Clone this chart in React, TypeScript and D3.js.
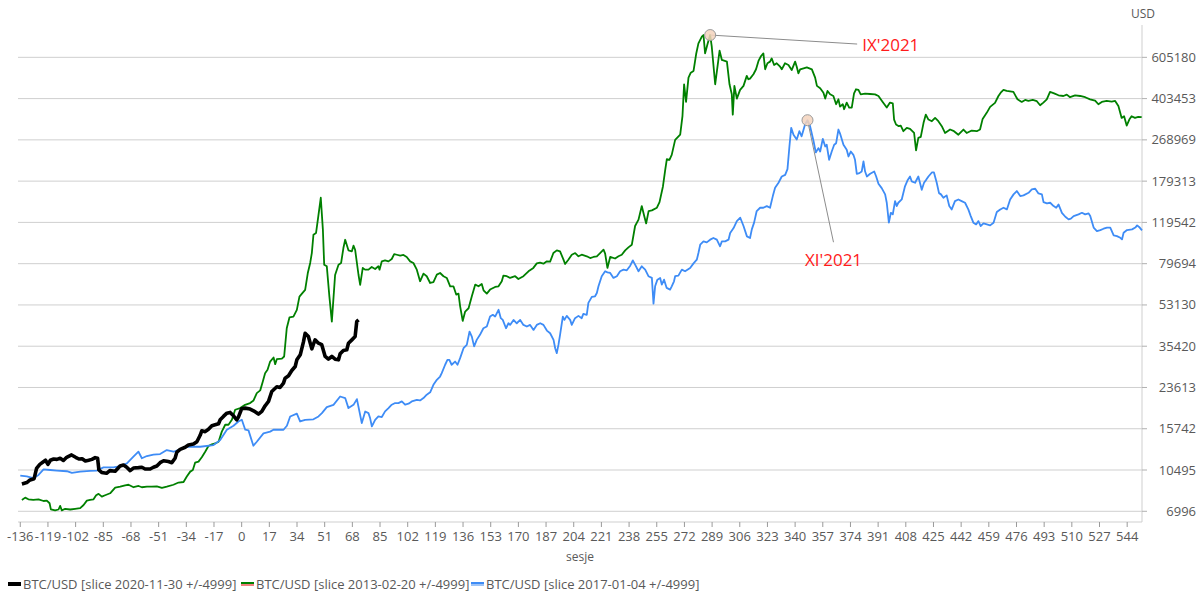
import React from 'react';
import * as d3 from 'd3';

// sessions relative to slice date, USD values
const xTickLabels = [-136, -119, -102, -85, -68, -51, -34, -17, 0, 17, 34, 51, 68, 85, 102, 119, 136, 153, 170, 187, 204, 221, 238, 255, 272, 289, 306, 323, 340, 357, 374, 391, 408, 425, 442, 459, 476, 493, 510, 527, 544];
const yTickLabels = [6996, 10495, 15742, 23613, 35420, 53130, 79694, 119542, 179313, 268969, 403453, 605180];

const black2020: [number, number][] = [
  [-135, 9150], [-132, 9280], [-130, 9520], [-127.5, 9640], [-126, 10670], [-124, 11090], [-122, 11350], [-120.5, 11550],
  [-119, 11090], [-117.5, 11550], [-115.5, 11690], [-113.5, 11650], [-111.5, 11780], [-109.5, 11530], [-107.5, 11890],
  [-104.5, 12170], [-102, 11890], [-100, 11690], [-98, 11730], [-96, 11460], [-94, 11550], [-92, 11650], [-90, 11850],
  [-88.5, 11780], [-87.7, 10495], [-86, 10250], [-83, 10160], [-81, 10430], [-77.7, 10370], [-74.7, 10910], [-72.6, 11020],
  [-70.6, 10780], [-68.5, 10430], [-66.5, 10700], [-63.4, 10740], [-61.3, 10780], [-59.3, 10600], [-56.2, 10600],
  [-54.2, 10780], [-52.1, 10910], [-50.1, 11280], [-48, 11500], [-45, 11400], [-42.9, 11280], [-40.9, 11780], [-39.8, 12520],
  [-37.8, 12860], [-34.7, 13120], [-32.7, 13420], [-29.6, 13540], [-27.5, 13860], [-25.5, 14760], [-24.5, 15430],
  [-22.4, 15300], [-20.4, 15650], [-18.3, 16210], [-16.3, 16370], [-14.2, 16530], [-13.2, 17190], [-11.2, 17770],
  [-9.1, 18350], [-7.1, 18480], [-5, 17880], [-3, 17190], [-2, 17660], [0, 19160], [2.1, 19280], [5.2, 19100], [7.3, 18780],
  [10.3, 18180], [12.4, 18670], [14.4, 19730], [16.5, 20590], [18.5, 22710], [21.6, 23780], [23.6, 23610], [25.7, 24650],
  [26.7, 25880], [28.8, 26490], [30.8, 27900], [32.9, 29020], [33.9, 30980], [36, 32540], [38, 37050], [39, 40240],
  [41, 38930], [43.1, 34500], [44.1, 36130], [45.1, 37690], [47.2, 36480], [49.2, 35950], [51.3, 32020], [53.3, 31170],
  [55.4, 32020], [57.4, 31170], [59.5, 30980], [60.5, 32870], [62.5, 33980], [64.6, 34200], [65.6, 36480], [67.7, 37690],
  [69.7, 38930], [70.7, 45130], [71.8, 45870],
];

const green2013: [number, number][] = [
  [-135, 7820], [-133, 8000], [-131, 7870], [-128, 7820], [-124.8, 7870], [-121.7, 7740], [-119.7, 7770], [-118, 7570],
  [-117.2, 7130], [-114.6, 7060], [-112.5, 7120], [-111.5, 7380], [-110.5, 7060], [-108.4, 7170], [-105.3, 7120],
  [-102.3, 7170], [-99.2, 7220], [-97.1, 7440], [-95.1, 7770], [-93.1, 7820], [-91, 7870], [-89.4, 8190], [-87.9, 8300],
  [-85.9, 8080], [-83.9, 8190], [-80.8, 8350], [-77.7, 8830], [-74.6, 8910], [-71.6, 9030], [-69.5, 9080], [-66.4, 8860],
  [-63.3, 8970], [-61.3, 8860], [-58.2, 8910], [-55.2, 8910], [-52.1, 8940], [-49, 8800], [-46, 8910], [-41.9, 9080],
  [-38.8, 9280], [-35.7, 9330], [-33.7, 9840], [-31.6, 10330], [-30, 10495], [-28.6, 11280], [-26.5, 11400], [-24.5, 11890],
  [-22.4, 12560], [-20.4, 13280], [-18.3, 13500], [-16.3, 13620], [-14.2, 13860], [-12.2, 15300], [-10.1, 16370],
  [-8.1, 16370], [-6, 17190], [-4, 18970], [-0.9, 19280], [2.1, 19910], [5.2, 20260], [7.3, 20780], [9.3, 22340],
  [11.4, 22950], [13, 25030], [14.4, 27180], [15.9, 28100], [17.5, 30460], [19.6, 31690], [20.6, 29680], [21.6, 31170],
  [24.7, 31360], [26.1, 32020], [27.7, 42260], [29.4, 47070], [31.8, 47390], [33.9, 50650], [35.5, 57650], [36.9, 59190],
  [39, 61580], [40.6, 72520], [42.1, 80250], [43.1, 88460], [44.1, 105900], [45.7, 107750], [47.1, 127200], [48.6, 152300],
  [49.9, 111300], [50.7, 78900], [52.3, 77670], [53.9, 57650], [55.4, 45120], [57.4, 71300], [59.5, 78900], [61.1, 80250],
  [62.5, 92920], [63.6, 100800], [65.6, 90850], [67.7, 89980], [68.7, 95080], [69.7, 91410], [71.8, 71300], [72.8, 64660],
  [74.4, 76410], [75.8, 75150], [77.9, 75150], [79.9, 77150], [82, 75630], [84, 77670], [84.7, 75150],
  [86.1, 81530], [88.1, 82330], [90.2, 81530], [92.2, 83440], [93.7, 87580], [95.3, 87000], [97.4, 86230], [99.4, 86800],
  [101.4, 85110], [103.5, 81530], [105.5, 80230], [107.6, 75150], [109.6, 67050], [111.7, 72260], [113.7, 70450],
  [115.8, 65930], [117.8, 66410], [119.9, 71570], [121.9, 72730], [124, 70450], [126, 69280], [128.1, 63810], [130.1, 63810],
  [131.8, 58820], [133.2, 59400], [134.2, 52560], [135.8, 45410], [137.3, 49800], [139.4, 51430], [141.4, 57860],
  [143.5, 64870], [145.5, 63810], [147.5, 65300], [148.6, 61370], [150.6, 59400], [152.6, 61790], [155.7, 63380],
  [157.8, 63810], [159.8, 67050], [160.8, 70870], [162.9, 70450], [164.9, 69280], [168, 70450], [170, 68540], [173.1, 70450],
  [176.2, 73960], [179.2, 76450], [181.3, 79950], [183.3, 80460], [185.4, 79694], [187.5, 81530], [189.5, 81270],
  [191.5, 88460], [193.6, 90850], [195.6, 89980], [197.7, 82880], [198.7, 79430], [200.7, 82880], [202.8, 87030],
  [204.9, 88460], [206.9, 85670], [208.9, 87030], [212, 85670], [214.1, 84240], [216.1, 85110], [218.2, 85670],
  [220.2, 88460], [222.3, 91410], [223.3, 87900], [224.7, 76410], [226.4, 85110], [229.4, 83840], [231.5, 85670],
  [233.5, 87030], [235.6, 90850], [237.6, 93560], [239.7, 96030], [241.7, 115390], [243.8, 122870], [245.8, 140340],
  [247.3, 127200], [248.5, 118370], [250, 133650], [252, 134490], [255.1, 138070], [256.7, 145960], [258.8, 170130],
  [260.2, 200470], [261.2, 222530], [262.8, 221090], [264.2, 232210], [266.3, 268970], [269.4, 282960], [270.8, 339440],
  [271.8, 464370], [273, 390570], [274.5, 495840], [275.9, 520460], [277.6, 529330], [279.2, 625150], [280.6, 694140],
  [282.7, 741340], [283.7, 753450], [284.7, 629390], [286.2, 689900], [287.8, 753450], [288.8, 671750], [290.9, 464370],
  [293.6, 646330], [295, 589840], [298.1, 580230], [299.7, 464370], [301.1, 420800], [301.7, 344820], [302.7, 457120],
  [304.2, 403450], [306.2, 439360], [308.3, 457120], [309.3, 480110], [310.3, 504320], [311.3, 487770],
  [312.3, 491000], [314.4, 512390], [316, 538210], [317.5, 584200], [319.1, 613050], [320.5, 629390], [321.6, 538210],
  [323, 570920], [324.6, 580230], [325.6, 598710], [327.1, 561390], [328.7, 570920], [330.8, 552170], [331.8, 537940],
  [333.8, 570920], [335.9, 561390], [337.9, 534140], [340, 580230], [341, 552170], [342, 517250], [343.1, 537940],
  [345.2, 543250], [347.2, 548670], [350.3, 537940], [352.3, 495840], [353.4, 457120], [355.4, 446620], [357.4, 427660],
  [358.5, 403450], [359.9, 434920], [361.5, 420800], [363.5, 413940], [365.2, 381700], [366.6, 400700], [367.6, 372880],
  [369.3, 381700], [370.1, 363470], [371.7, 387940], [373.2, 369460], [374.8, 369460], [376.2, 424430], [377.4, 442190],
  [378.9, 439360], [380.3, 420800], [383, 423630], [386, 422170], [389.1, 420800], [391.2, 413940], [393.8, 390570],
  [396.3, 369460], [398.3, 387940], [400, 385340], [400.8, 328410], [402, 312810], [403.7, 307700], [404.9, 309590],
  [406.5, 292910], [408.6, 302590], [410.6, 299630], [413.1, 287800], [414.3, 242430], [415.7, 274350], [417.2, 277040],
  [418.9, 317920], [420.3, 344820], [421.9, 328410], [424, 323030], [426, 333790], [428, 323030], [430.1, 307700],
  [432.1, 287800], [435.2, 297750], [437.6, 292910], [440.3, 282960], [443.4, 297750], [445.4, 287800], [448.5, 294790],
  [451.6, 292910], [453.6, 297750], [455.2, 330560], [457.7, 350740], [459.8, 371990], [462.8, 387050], [464.9, 413940],
  [466.3, 427660], [468, 439360], [470, 434920], [474.1, 430890], [476.6, 400700], [479.2, 390570], [481.3, 398280],
  [483.3, 394300], [486, 398280], [488.5, 393240], [490.5, 377770], [492.5, 387940], [494.6, 400700], [496.6, 430890],
  [499.1, 425000], [501.8, 416770], [504.8, 413940], [506.9, 419590], [508.9, 409000], [512, 416770], [515.1, 413940],
  [518.2, 409000], [521.2, 400700], [524.3, 395380], [526.3, 381700], [528.4, 390570], [531.4, 394300], [534.5, 391870],
  [536.6, 394300], [538.6, 375310], [540.6, 333790], [542.1, 339440], [543.7, 309590], [545.3, 328410], [546.7, 339440],
  [548.8, 333790], [550.8, 337300], [552.9, 336000],
];

const blue2017: [number, number][] = [
  [-136, 9930], [-132, 9860], [-128, 9680], [-124.8, 10000], [-121.7, 10550], [-117.6, 10495], [-113.5, 10440],
  [-107.4, 10370], [-104.3, 10200], [-99.2, 10330], [-93, 10400], [-89, 10440], [-84.9, 10770], [-78.7, 10770],
  [-74.6, 10900], [-70.5, 11210], [-66.5, 11960], [-63.4, 12560], [-61.3, 11780], [-58.2, 12040], [-54.2, 12210],
  [-50.1, 12280], [-46, 12770], [-41.9, 12560], [-37.8, 12860], [-33.7, 13190], [-25.5, 13190], [-17.3, 13410],
  [-13.2, 14080], [-9.1, 15590], [-5, 16210], [-2, 16910], [0.1, 17190], [2.2, 15590], [4.2, 15490], [7.2, 13320],
  [9.3, 13850], [13.4, 15050], [17.5, 15300], [19.5, 15590], [25.7, 15590], [27.8, 16210], [29.8, 17760], [33.9, 18250],
  [35.9, 16910], [39, 17190], [44.1, 17270], [47.2, 17760], [49.3, 18350], [52.3, 19470], [56.4, 19910], [60.5, 21610],
  [63.6, 21280], [65.6, 19280], [68.7, 19910], [70.8, 21060], [73.8, 16650], [75.9, 18650], [77.9, 18350],
  [78.9, 17480], [80, 16100], [82, 17190], [84, 17770], [86.1, 17660], [88.1, 18670], [90.2, 19280], [92.2, 19930],
  [94.3, 20260], [96.3, 20260], [98.4, 20590], [100.4, 19930], [102.5, 20130], [104.5, 20590], [107.6, 20920],
  [109.6, 20800], [111.7, 21280], [113.7, 21990], [115.8, 22510], [117.8, 24230], [119.9, 25450], [121.9, 26300],
  [122.9, 27180], [125, 29520], [126.4, 30980], [127.6, 30980], [129, 29520], [131.1, 30460], [132.6, 29520],
  [134.2, 31500], [136.3, 34730], [138.3, 35880], [140, 40910], [141.4, 38930], [142.8, 35370], [144.4, 37690],
  [146.4, 39600], [148.5, 42260], [150.6, 42960], [152.6, 47390], [154.3, 48210], [155.7, 47390], [157.8, 50650],
  [159.2, 46650], [160.4, 45870], [162.4, 42260], [163.9, 44380], [164.9, 43670], [167, 45870], [169, 44380],
  [171.1, 45870], [173.1, 43670], [175.2, 42960], [177.2, 43670], [179.3, 41580], [181.3, 43670], [183.4, 44380],
  [185.4, 43670], [187.5, 41300], [189.5, 40240], [191.6, 37690], [192.6, 34730], [193.6, 33070], [194.6, 35880],
  [195.6, 39600], [197.3, 47390], [198.3, 45870], [199.7, 47720], [201.8, 45870], [202.8, 43670], [204.8, 46650],
  [206.9, 47720], [208.9, 46650], [209.9, 48670], [212, 48210], [213, 54190], [215.1, 57490], [217.1, 57860],
  [218.2, 59770], [219.2, 63810], [221.2, 70450], [223.3, 73960], [224.7, 73210], [226.4, 72730], [228.4, 69280],
  [230.5, 70450], [232.5, 73960], [234.6, 75180], [236.6, 74680], [238.7, 78150], [240.3, 82330], [241.7, 78960],
  [243.8, 73960], [245.8, 77680], [247.9, 75180], [249.9, 70450], [252, 69280], [253, 53820], [254, 63810],
  [255.4, 68110], [257.1, 69280], [258.1, 64870], [259.5, 68110], [261.1, 62800], [263.2, 61790], [264.2, 63810],
  [265.6, 67050], [266.3, 70450], [268.3, 70870], [270.4, 75180], [272.4, 73960], [275.5, 76410], [277.6, 79950],
  [279.6, 82880], [280.6, 88460], [281.7, 96030], [283.7, 99220], [285.7, 98260], [287.8, 100890], [289.8, 102570],
  [291.9, 100890], [293.9, 94520], [295, 99220], [297, 99220], [299.1, 100890], [300.1, 107750], [302.2, 113090],
  [304.2, 121100], [306.3, 125160], [308.3, 115390], [310.4, 104240],
  [312.3, 102570], [313.4, 111620], [314.8, 119250], [316.4, 133650], [318.5, 138070], [320.5, 138070], [322.6, 140340],
  [324.6, 138070], [326.3, 154810], [327.7, 168080], [329.8, 176560], [331.8, 187740], [333.9, 190790], [335.3, 201730],
  [336.5, 252110], [337.6, 302590], [339, 282960], [341, 269900], [342.6, 292910], [344, 278650], [346.1, 312810],
  [347.6, 326260], [349.2, 307700], [351.3, 265930], [352.7, 237770], [354.3, 248000], [355.4, 239920], [357, 271600],
  [358.5, 252110], [359.4, 256420], [360.9, 221090], [362.5, 239920], [364, 256420], [365.2, 260360], [366.6, 297750],
  [367.6, 286180], [369.7, 256420], [371.7, 244050], [372.8, 228440], [374.2, 239920], [375.8, 232210], [376.8, 221090],
  [377.9, 192760], [379.5, 194020], [380.9, 197060], [382, 217510], [383, 197060], [384.1, 187740], [386.1, 192760],
  [388.6, 197060], [389.8, 187740], [391.2, 174770], [393.2, 167430], [395.3, 157440], [396.3, 145000], [397.6, 119250],
  [398.8, 131380], [400, 129350], [401.4, 147400], [402.4, 140340], [403.4, 145000], [405.5, 149790], [407.5, 170450],
  [409, 180350], [410.6, 187740], [411.6, 179000], [413.7, 176560], [415.7, 187740], [417.8, 164660], [419.2, 176560],
  [420.5, 181600], [421.9, 187740], [424, 195270], [425.3, 195270], [427, 176560], [428.4, 159390], [429.6, 157440],
  [431.1, 152290], [433.1, 155880], [434.7, 140340], [436.2, 135800], [438.2, 147400], [440.3, 149790], [442.3, 147400],
  [444.4, 145000], [446.4, 135800], [447.9, 127200], [449.5, 119250], [451.2, 117200], [452.6, 121100], [454, 115390],
  [455.7, 118370], [457.8, 117200], [459.8, 116090], [461.9, 119150], [463.9, 132330], [466, 135800], [468, 138070],
  [470.1, 135800], [472.1, 149790], [474.2, 157440], [476.2, 162690], [478.3, 154810], [480.3, 155880], [483.4, 159950],
  [485.4, 165330], [487.5, 166400], [489.5, 158870], [491.6, 157440], [492.6, 145960], [494.7, 144050], [496.7, 145000],
  [498.8, 140340], [500.4, 138070], [501.8, 142610], [503.9, 131380], [506, 126360], [508, 123130], [509.4, 124000],
  [511.1, 127200], [514.1, 129350], [516.2, 131380], [518.2, 129350], [520.3, 130620], [521.3, 127200], [523.4, 113630],
  [525.4, 109770], [527.5, 110890], [529.5, 112350], [531.6, 113630], [533.6, 113630], [535.7, 105230], [537.7, 104500],
  [539.8, 102790], [540.8, 101140], [541.8, 107990], [543.9, 110890], [547, 111620], [549, 113630], [550.1, 116060],
  [551.7, 113630], [553.1, 110500],
];

const seriesNames = [
  'BTC/USD [slice 2020-11-30 +/-4999]',
  'BTC/USD [slice 2013-02-20 +/-4999]',
  'BTC/USD [slice 2017-01-04 +/-4999]',
];

// annotated peaks: [session, value, label]
const peakNotes: [number, number, string][] = [
  [287.8, 753450, "IX'2021"],
  [347.6, 326260, "XI'2021"],
];

const W = 1201;
const H = 596;
const left = 18;
const right = 1142;
const top = 25;
const bottom = 522;
const font = "'Open Sans', 'Noto Sans', sans-serif";
const textGray = '#595959';
const gridGray = '#cfcfcf';

const x = d3.scaleLinear().domain([-137.4, 553.1]).range([left, right]);
const y = d3.scaleLog().domain([6297, 831500]).range([bottom, top]);

const line = d3
  .line<[number, number]>()
  .x((d) => x(d[0]))
  .y((d) => y(d[1]));

const series = [
  { name: seriesNames[1], data: green2013, color: '#008000', alt: '#f08080', width: 1.8 },
  { name: seriesNames[2], data: blue2017, color: '#3e8cf6', alt: '#9ec4f7', width: 1.8 },
  { name: seriesNames[0], data: black2020, color: '#000000', alt: '#000000', width: 3.6 },
];

const legend = [
  { name: seriesNames[0], color: '#000000', alt: '#000000', x: 8 },
  { name: seriesNames[1], color: '#008000', alt: '#f08080', x: 241 },
  { name: seriesNames[2], color: '#3e8cf6', alt: '#9ec4f7', x: 471 },
];

export default function App() {
  const [gx, gy] = [x(peakNotes[0][0]), y(peakNotes[0][1])];
  const [bx, by] = [x(peakNotes[1][0]), y(peakNotes[1][1])];
  return (
    <svg
      width={W}
      height={H}
      style={{ position: 'absolute', left: 0, top: 0, background: '#fff', fontFamily: font }}
    >
      {/* horizontal grid */}
      {yTickLabels.map((t) => (
        <line key={t} x1={left} x2={right} y1={y(t)} y2={y(t)} stroke={gridGray} strokeWidth={1} />
      ))}
      {/* right axis */}
      <line x1={right} x2={right} y1={top} y2={bottom} stroke={gridGray} />
      {yTickLabels.map((t) => (
        <g key={'yl' + t}>
          <line x1={right} x2={right + 5} y1={y(t)} y2={y(t)} stroke="#b0b0b0" />
          <text x={1196} y={y(t) + 4.5} textAnchor="end" fontSize={13} fill={textGray}>
            {t}
          </text>
        </g>
      ))}
      <text x={1143} y={18} textAnchor="middle" fontSize={12} fill={textGray}>
        USD
      </text>
      {/* bottom axis */}
      <line x1={left} x2={right} y1={bottom} y2={bottom} stroke={gridGray} />
      {xTickLabels.map((t) => (
        <g key={'xl' + t}>
          <line x1={x(t)} x2={x(t)} y1={bottom} y2={bottom + 5} stroke="#9a9a9a" />
          <text x={x(t)} y={541} textAnchor="middle" fontSize={13} fill={textGray}>
            {t}
          </text>
        </g>
      ))}
      <text x={(left + right) / 2} y={561} textAnchor="middle" fontSize={12} fill={textGray}>
        sesje
      </text>
      {/* series */}
      {series.map((s) => (
        <path
          key={s.name}
          d={line(s.data) || ''}
          fill="none"
          stroke={s.color}
          strokeWidth={s.width}
          strokeLinejoin="round"
        />
      ))}
      {/* peak annotations */}
      <line x1={gx} y1={gy} x2={gx + 147} y2={gy + 9} stroke="#8c8c8c" strokeWidth={1} />
      <circle cx={gx} cy={gy} r={5.5} fill="#f4d3bd" fillOpacity={0.85} stroke="#9a9a9a" strokeWidth={1} />
      <text x={gx + 152} y={gy + 16} fontSize={17} fill="#ff1a1a">
        {peakNotes[0][2]}
      </text>
      <line x1={bx} y1={by} x2={bx + 26} y2={by + 122} stroke="#8c8c8c" strokeWidth={1} />
      <circle cx={bx} cy={by} r={5.5} fill="#f4d3bd" fillOpacity={0.85} stroke="#9a9a9a" strokeWidth={1} />
      <text x={bx + 26} y={by + 146} textAnchor="middle" fontSize={17} fill="#ff1a1a">
        {peakNotes[1][2]}
      </text>
      {/* legend */}
      {legend.map((l) => (
        <g key={'lg' + l.name}>
          <rect x={l.x} y={582} width={13} height={2} fill={l.color} />
          <rect x={l.x} y={584} width={13} height={2} fill={l.alt} />
          <text x={l.x + 15} y={589} fontSize={13} fill={textGray}>
            {l.name}
          </text>
        </g>
      ))}
    </svg>
  );
}
